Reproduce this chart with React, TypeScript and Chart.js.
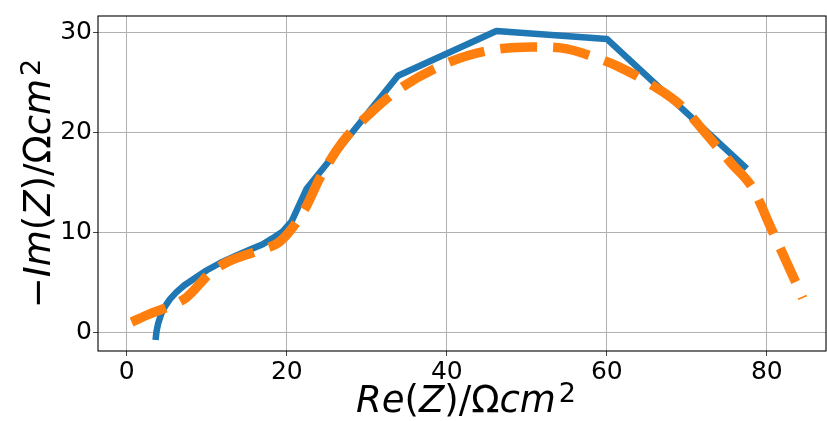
import React, { useEffect, useRef } from "react";
import { Chart, registerables } from "chart.js";

Chart.register(...registerables);

// Measured impedance (blue, solid)
const measuredRe = [3.6, 3.7, 3.9, 4.3, 4.8, 5.4, 6.2, 7.2, 8.5, 10.0, 11.6, 13.5, 15.5, 17.0, 18.2, 19.5, 20.6, 22.5, 33.9, 46.2, 60.0, 77.5];
const measuredIm = [-0.8, 0.0, 0.8, 1.8, 2.6, 3.3, 4.0, 4.7, 5.4, 6.2, 6.9, 7.6, 8.3, 8.8, 9.4, 10.1, 11.1, 14.4, 25.7, 30.2, 29.4, 16.4];

// Fitted impedance (orange, dashed)
const fitRe = [0.6, 2.8, 5.1, 7.5, 10.4, 12.5, 16.2, 19.0, 20.75, 22.5, 24.1, 27.0, 30.5, 34.1, 40.1, 45.0, 50.75, 55.0, 58.0, 61.25, 65.4, 69.3, 72.5, 75.6, 78.25, 80.6, 83.5, 84.5];
const fitIm = [1.0, 1.8, 2.5, 3.5, 5.9, 7.0, 8.1, 9.0, 10.5, 12.7, 15.4, 19.1, 22.0, 24.4, 27.0, 28.2, 28.6, 28.4, 27.7, 26.7, 24.9, 22.7, 19.8, 16.9, 14.4, 10.3, 5.2, 3.4];

const xTicks = [0, 20, 40, 60, 80];
const yTicks = [0, 10, 20, 30];

// Axis titles as rich text segments: [text, style] where style: "i" italic, "u" upright, "s" superscript
const xTitle: [string, string][] = [["Re", "i"], ["(", "u"], ["Z", "i"], [")/", "u"], ["Ω", "u"], ["cm", "i"], ["2", "s"]];
const yTitle: [string, string][] = [["−", "u"], ["Im", "i"], ["(", "u"], ["Z", "i"], [")/", "u"], ["Ω", "u"], ["cm", "i"], ["2", "s"]];

const MAIN = 37;
const SUP = 27;

function fontFor(style: string) {
  if (style === "i") return `italic ${MAIN}px 'DejaVu Sans'`;
  if (style === "s") return `${SUP}px 'DejaVu Sans'`;
  return `${MAIN}px 'DejaVu Sans'`;
}

function drawRich(ctx: CanvasRenderingContext2D, segs: [string, string][], cx: number) {
  let total = 0;
  const widths: number[] = [];
  for (const [t, s] of segs) {
    ctx.font = fontFor(s);
    const w = ctx.measureText(t).width + (s === "s" ? 3 : 0);
    widths.push(w);
    total += w;
  }
  let x = cx - total / 2;
  segs.forEach(([t, s], i) => {
    ctx.font = fontFor(s);
    ctx.fillText(t, x + (s === "s" ? 3 : 0), s === "s" ? -10 : 0);
    x += widths[i];
  });
}

const framePlugin = {
  id: "frameAndTitles",
  afterDraw(chart: any) {
    const { ctx, chartArea } = chart;
    ctx.save();
    ctx.strokeStyle = "#000";
    ctx.lineWidth = 1.1;
    ctx.strokeRect(chartArea.left, chartArea.top, chartArea.right - chartArea.left, chartArea.bottom - chartArea.top);
    ctx.fillStyle = "#000";
    ctx.textBaseline = "alphabetic";
    ctx.textAlign = "left";
    // x title
    ctx.save();
    ctx.translate(0, 412);
    drawRich(ctx, xTitle, (chartArea.left + chartArea.right) / 2 + 4);
    ctx.restore();
    // y title
    ctx.save();
    ctx.translate(50, (chartArea.top + chartArea.bottom) / 2);
    ctx.rotate(-Math.PI / 2);
    drawRich(ctx, yTitle, 0);
    ctx.restore();
    ctx.restore();
  },
};

export default function App() {
  const ref = useRef<HTMLCanvasElement | null>(null);

  useEffect(() => {
    if (!ref.current) return;
    const chart = new Chart(ref.current, {
      type: "line",
      data: {
        datasets: [
          {
            label: "fit",
            data: fitRe.map((x, i) => ({ x, y: fitIm[i] })),
            borderColor: "#ff7f0e",
            borderWidth: 9.5,
            borderDash: [37, 16],
            borderCapStyle: "butt",
            cubicInterpolationMode: "monotone",
            pointRadius: 0,
            fill: false,
            order: 0,
          },
          {
            label: "measured",
            data: measuredRe.map((x, i) => ({ x, y: measuredIm[i] })),
            borderColor: "#1f77b4",
            borderWidth: 6.5,
            borderCapStyle: "butt",
            borderJoinStyle: "round",
            tension: 0,
            pointRadius: 0,
            fill: false,
            order: 1,
          },
        ],
      },
      options: {
        responsive: false,
        animation: false,
        layout: { padding: { top: 13, right: 1, left: 0, bottom: 0 } },
        plugins: { legend: { display: false }, tooltip: { enabled: false } },
        scales: {
          x: {
            type: "linear",
            min: -3.6,
            max: 87.4,
            afterFit: (s: any) => { s.height = 70; },
            afterBuildTicks: (s: any) => { s.ticks = xTicks.map((v) => ({ value: v })); },
            grid: { color: "#b0b0b0", lineWidth: 1, tickLength: 5, tickColor: "#444" },
            border: { display: false },
            ticks: {
              color: "#000",
              font: { family: "DejaVu Sans", size: 25 },
              padding: 1,
              maxRotation: 0,
              autoSkip: false,
            },
            title: { display: false },
          },
          y: {
            type: "linear",
            min: -1.9,
            max: 31.7,
            afterFit: (s: any) => { s.width = 98; },
            afterBuildTicks: (s: any) => { s.ticks = yTicks.map((v) => ({ value: v })); },
            grid: { color: "#b0b0b0", lineWidth: 1, tickLength: 5, tickColor: "#444" },
            border: { display: false },
            ticks: {
              color: "#000",
              font: { family: "DejaVu Sans", size: 25 },
              padding: 1,
              autoSkip: false,
            },
            title: { display: false },
          },
        },
      },
      plugins: [framePlugin],
    });
    return () => chart.destroy();
  }, []);

  return (
    <div style={{ position: "fixed", left: 0, top: 0, width: 827, height: 421, background: "#fff" }}>
      <canvas ref={ref} width={827} height={421} style={{ display: "block" }} />
    </div>
  );
}
